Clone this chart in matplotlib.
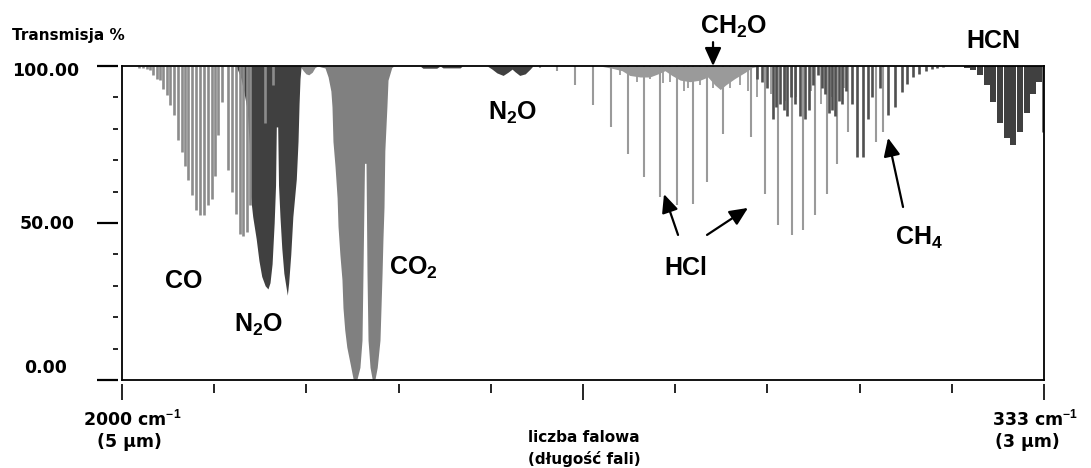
import numpy as np
import matplotlib
matplotlib.use('Agg')
import matplotlib.pyplot as plt
from matplotlib.transforms import blended_transform_factory

# ---- spectrum: wavenumber (cm-1) vs transmission (%) ----
# CO rotational lines (light gray comb)
CO_WN = [2025, 2030, 2036, 2040, 2045, 2051, 2055, 2059, 2065, 2069, 2075, 2081,
         2087, 2091, 2095, 2101, 2107, 2113, 2119, 2124, 2130, 2134, 2139, 2145,
         2153, 2159, 2165, 2171, 2175, 2181, 2185, 2207, 2218]
CO_T = [99.4, 99.4, 99.0, 98.7, 97.0, 96.0, 95.5, 92.7, 90.8, 87.6, 84.4, 76.4,
        72.6, 68.0, 63.7, 59.0, 54.0, 52.5, 52.5, 55.7, 57.6, 65.0, 78.0, 88.5,
        67.0, 60.0, 52.8, 46.5, 46.0, 47.0, 55.7, 82.0, 94.0]

# N2O strong band (dark envelope)
N2O_WN = [2164.8, 2167.7, 2172, 2176, 2181, 2184, 2185, 2189, 2194, 2198, 2202,
          2207, 2211, 2214, 2217, 2220, 2222, 2223.1, 2225.1, 2226.3, 2228.4,
          2231, 2234, 2239, 2241, 2244, 2247, 2252, 2254.5, 2256, 2257.4, 2259]
N2O_T = [100, 98.5, 96, 92, 86, 75, 60, 52, 45, 38, 33,
         30, 29, 31, 37, 50, 62, 80.6, 80.6, 62, 52,
         42, 34, 27, 31, 40, 52, 64, 76, 88, 96, 100]

# CO2 shoulder and main band
CO2_HUMP_WN = [2257.4, 2262, 2266, 2270, 2275, 2279, 2283]
CO2_HUMP_T = [100, 98.5, 97.5, 97.2, 98.0, 99.5, 100]
CO2_WN = [2283, 2289, 2293.5, 2298, 2302, 2303.6, 2305, 2308, 2311, 2312.3, 2315,
          2318, 2319.5, 2322, 2325, 2330, 2334, 2337, 2340, 2344, 2347, 2348.4,
          2350.6, 2352.8, 2354.2, 2355.7, 2358.6, 2361.5, 2363, 2366, 2369, 2373,
          2376, 2377.3, 2378.8, 2380, 2383, 2384.6, 2390, 2393]
CO2_T = [100, 99.6, 99.4, 96.5, 92, 87, 76, 68, 58, 49, 40,
         32, 23, 16, 10.5, 5, 0.5, 0, 0.5, 4, 12.7, 34,
         69, 69, 34, 12.7, 4, 0.5, 0, 0.5, 4, 12.7,
         34, 45, 55, 73, 87, 95.5, 99.5, 100]

# weak dark features
TRACE_WN = [2431, 2435, 2455, 2460, 2464, 2489, 2492]
TRACE_T = [100, 99.3, 99.3, 100, 99.4, 99.4, 100]
N2O_WEAK_WN = [2528, 2535, 2542, 2551, 2558, 2564, 2568, 2575, 2583, 2590, 2594]
N2O_WEAK_T = [100, 99, 97.8, 97, 98, 99, 98.2, 97, 97.5, 99, 100]

# HCl lines (light gray)
HCL_WN = [2604, 2629, 2655, 2681, 2707, 2732, 2755, 2778, 2802, 2826, 2846, 2869,
          2909, 2930, 2948, 2969, 2985, 3002, 3019, 3034, 3050, 3090, 3100]
HCL_T = [99.3, 98.4, 94, 87.6, 80.6, 72, 64.6, 58.3, 55.7, 56, 63, 78.3,
         77.4, 59.2, 49.4, 46.2, 47.8, 52.5, 59.2, 68.8, 79, 75.8, 79]

# CH2O continuum and short lines
CONT_WN = [2691, 2708, 2723, 2734, 2749, 2763, 2775, 2785, 2795, 2807, 2821, 2836,
           2847, 2857, 2865, 2873, 2886, 2901, 2911, 2922]
CONT_T = [100, 99.3, 98.5, 97, 96.5, 96.5, 97.5, 98.5, 97, 95.5, 95, 95.5,
          96.5, 94, 92.5, 94, 96, 98, 99.5, 100]
MINOR_WN = [2720, 2744, 2763, 2782, 2792, 2812, 2818, 2836, 2854, 2879, 2893, 2905,
            2918, 2938, 2958, 2975, 2996, 3010, 3026, 3044]
MINOR_T = [97, 95, 96, 94.6, 95, 92, 93, 94, 93, 93, 94, 92,
           90, 91, 89, 90, 92, 88, 90, 93]

# CH4 lines (dark gray)
CH4_WN = [2918, 2925, 2933, 2941, 2946, 2951, 2957, 2962, 2967, 2973, 2980, 2988,
          2993, 2999, 3006, 3012, 3016, 3022, 3027, 3031, 3037, 3041, 3047, 3055,
          3063, 3071, 3079, 3084, 3096, 3107, 3118, 3128, 3135, 3144, 3152, 3162,
          3171, 3178, 3187]
CH4_T = [96, 95, 93, 83, 87, 88, 86, 84, 90, 88, 84, 83,
         86, 94, 97, 93, 91, 85, 86, 84, 89, 88, 92, 88,
         71, 71, 83, 90, 93, 84.4, 86.9, 91.7, 94.3, 96.5, 97.5, 98.5,
         99, 99.4, 99.6]

# HCN band (dark)
HCN_WN = [3222, 3230, 3241, 3251, 3259, 3269, 3280, 3288, 3298, 3308, 3317, 3326]
HCN_T = [99.5, 98.6, 97, 94, 88.5, 82, 77, 75, 79, 85, 91, 95]
HCN_EDGE_WN = [3332]
HCN_EDGE_T = [79]

X_TICKS = np.linspace(2000, 3333, 11)
Y_MINOR = [10, 20, 30, 40, 60, 70, 80, 90]
Y_MAJOR = [0, 50, 100]

LIGHT = '#8c8c8c'
MID = '#808080'
PALE = '#9a9a9a'
DARK = '#404040'
DARK2 = '#505050'

W, H = 1091, 468
plt.rcParams['mathtext.fontset'] = 'custom'
plt.rcParams['mathtext.bf'] = 'Liberation Sans:bold'
plt.rcParams['mathtext.rm'] = 'Liberation Sans'


def fpx(x, y):
    return x / W, 1 - y / H


fig = plt.figure(figsize=(W / 100, H / 100), dpi=100)
ax = fig.add_axes([122 / W, 88 / H, 922 / W, 314 / H])
ax.set_xlim(2000, 3333)
ax.set_ylim(0, 100)

# bands
ax.fill_between(CO2_HUMP_WN, CO2_HUMP_T, 100, color='#8a8a8a', lw=0)
ax.fill_between(CO2_WN, CO2_T, 100, color=MID, lw=0)
ax.fill_between(N2O_WN, N2O_T, 100, color=DARK, lw=0)
ax.vlines(CO_WN, CO_T, 100, color=LIGHT, lw=1.9)
ax.fill_between(TRACE_WN, TRACE_T, 100, color=DARK, lw=0)
ax.fill_between(N2O_WEAK_WN, N2O_WEAK_T, 100, color=DARK, lw=0)
ax.fill_between(CONT_WN, CONT_T, 100, color=PALE, lw=0)
ax.vlines(MINOR_WN, MINOR_T, 100, color=PALE, lw=1.3)
ax.vlines(HCL_WN, HCL_T, 100, color=PALE, lw=1.5)
ax.vlines(CH4_WN, CH4_T, 100, color=DARK2, lw=1.9)
ax.bar(HCN_WN, [100 - t for t in HCN_T], bottom=HCN_T, width=8.8, color=DARK, lw=0)
ax.vlines(HCN_EDGE_WN, HCN_EDGE_T, 100, color=DARK, lw=1.8)

# frame and detached ticks
for s in ax.spines.values():
    s.set_linewidth(1.3)
ax.set_xticks([])
ax.set_yticks([])
ty = blended_transform_factory(ax.transAxes, ax.transData)
tx = blended_transform_factory(ax.transData, ax.transAxes)
ax.hlines(Y_MINOR, -8.7 / 922, -3.7 / 922, transform=ty, clip_on=False, color='k', lw=1.2)
ax.hlines(Y_MAJOR, -25 / 922, -3.7 / 922, transform=ty, clip_on=False, color='k', lw=1.6)
for i, x in enumerate(X_TICKS):
    end = -20 / 314 if i in (0, 5, 10) else -13 / 314
    ax.vlines(x, -4 / 314, end, transform=tx, clip_on=False, color='k', lw=1.2)

# axis texts
bold = dict(family='DejaVu Sans', fontweight='bold')
fig.text(*fpx(12, 40), 'Transmisja %', fontsize=11, va='baseline', **bold)
fig.text(*fpx(12, 70.5), '100.00', fontsize=12.5, va='center', **bold)
fig.text(*fpx(20, 224), '50.00', fontsize=12.5, va='center', **bold)
fig.text(*fpx(24, 368), '0.00', fontsize=12.5, va='center', **bold)
fig.text(*fpx(83, 425), r'2000 cm$^{\mathbf{-1}}$', fontsize=12.5, va='baseline', **bold)
fig.text(*fpx(129, 447), '(5 µm)', fontsize=12.5, va='baseline', ha='center', **bold)
fig.text(*fpx(992, 425), r'333 cm$^{\mathbf{-1}}$', fontsize=12.5, va='baseline', **bold)
fig.text(*fpx(1027, 447), '(3 µm)', fontsize=12.5, va='baseline', ha='center', **bold)
fig.text(*fpx(584, 442), 'liczba falowa', fontsize=11, va='baseline', ha='center', **bold)
fig.text(*fpx(584, 464), '(długość fali)', fontsize=11, va='baseline', ha='center', **bold)

# gas labels
gas = dict(family='Liberation Sans', fontweight='bold', fontsize=18,
           ha='center', va='baseline', annotation_clip=False)
labels = [('CO', 2089.6, 29.3), (r'N$_{\mathbf{2}}$O', 2198, 15.3),
          (r'CO$_{\mathbf{2}}$', 2420.7, 33.4), (r'N$_{\mathbf{2}}$O', 2564.6, 82.8),
          ('HCl', 2815.4, 33.4), (r'CH$_{\mathbf{4}}$', 3152.3, 43.0),
          ('HCN', 3259.3, 105.7), (r'CH$_{\mathbf{2}}$O', 2884, 110.2)]
for txt, x, y in labels:
    ax.annotate(txt, (x, y), **gas)

arrow = dict(arrowstyle='-|>,head_length=1.1,head_width=0.5', color='k', lw=1.6,
             shrinkA=0, shrinkB=0)
arrows = [((2854.5, 107.6), (2854.5, 100)),
          ((2803.9, 46.2), (2783.6, 59.2)),
          ((2845.8, 46.2), (2905.0, 54.8)),
          ((3129.2, 55.1), (3107.5, 77.1))]
for tail, tip in arrows:
    ax.annotate('', xy=tip, xytext=tail, arrowprops=arrow, annotation_clip=False)

fig.savefig('out.png', dpi=100)
